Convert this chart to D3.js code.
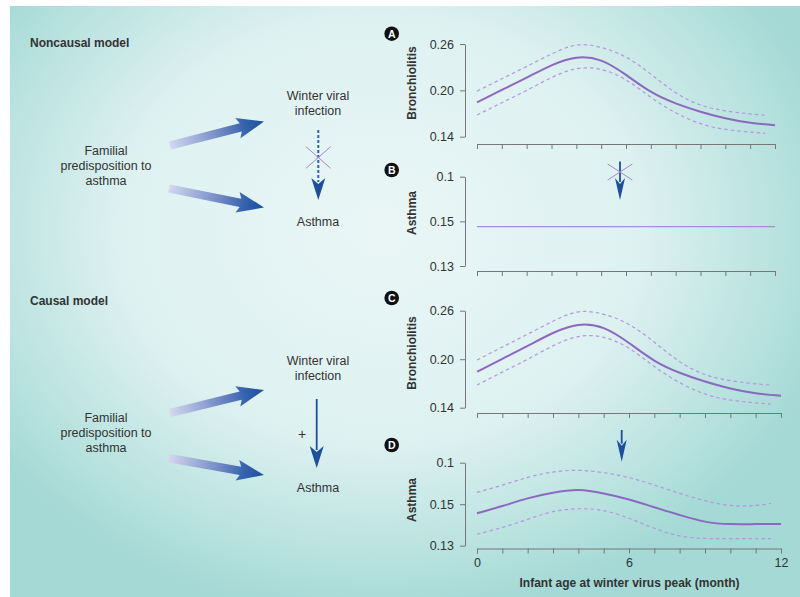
<!DOCTYPE html>
<html>
<head>
<meta charset="utf-8">
<script src="https://cdn.jsdelivr.net/npm/d3@7"></script>
<style>
  body { margin: 0; background: #fff; }
  svg text { font-family: "Liberation Sans", Arial, sans-serif; }
</style>
</head>
<body>
<div id="chart"></div>
<script>
// months along the x axis
const months = [0, 1, 2, 3, 4, 5, 6, 7, 8, 9, 10, 11, 12];
const ciMonths = [0, 1, 2, 3, 4, 5, 6, 7, 8, 9, 10, 11, 11.6];
const xTickLabels = { 0: "0", 6: "6", 12: "12" };

// bronchiolitis risk (panels A and C)
const bronchMean = [0.1845, 0.2005, 0.2164, 0.2324, 0.2423, 0.2384, 0.220, 0.1983, 0.1832, 0.1724, 0.1638, 0.158, 0.1548];
const bronchUpper = [0.199, 0.215, 0.231, 0.247, 0.2585, 0.2555, 0.243, 0.221, 0.197, 0.181, 0.1735, 0.1695, 0.168];
const bronchLower = [0.168, 0.184, 0.200, 0.2165, 0.228, 0.227, 0.2135, 0.191, 0.171, 0.157, 0.1495, 0.146, 0.1444];
const bronchTicks = [0.26, 0.20, 0.14];

// asthma risk, noncausal model (panel B)
const asthmaFlatMonths = [0, 12];
const asthmaFlat = [0.1476, 0.1476];

// asthma risk, causal model (panel D)
const asthmaMean = [0.1456, 0.1491, 0.1528, 0.1555, 0.1568, 0.1552, 0.1523, 0.1485, 0.1448, 0.1416, 0.1404, 0.1404, 0.1404];
const asthmaUpper = [0.1557, 0.1592, 0.1629, 0.1655, 0.1663, 0.1652, 0.1628, 0.1592, 0.1552, 0.1517, 0.1494, 0.1494, 0.1504];
const asthmaLower = [0.1355, 0.1388, 0.1427, 0.1464, 0.1478, 0.1469, 0.1432, 0.1384, 0.1347, 0.1335, 0.1334, 0.1334, 0.1334];
const asthmaTicks = [0.17, 0.15, 0.13];
const asthmaTickLabels = ["0.1", "0.15", "0.13"];

const W = 800, H = 597;
const solidColor = "#8c68c0", dashColor = "#b398dc", blue = "#1d4f9c", textColor = "#333";

const svg = d3.select("#chart").append("svg")
    .attr("width", W).attr("height", H);

const defs = svg.append("defs");
const bg = defs.append("radialGradient")
    .attr("id", "bg")
    .attr("gradientUnits", "userSpaceOnUse")
    .attr("cx", 380).attr("cy", 230).attr("r", 470)
    .attr("gradientTransform", "translate(380,230) scale(1,0.82) translate(-380,-230)");
bg.append("stop").attr("offset", "0").attr("stop-color", "#eaf6f6");
bg.append("stop").attr("offset", "0.55").attr("stop-color", "#def1f1");
bg.append("stop").attr("offset", "0.85").attr("stop-color", "#b8e2df");
bg.append("stop").attr("offset", "1").attr("stop-color", "#a4d9d5");

svg.append("rect")
    .attr("x", 10).attr("y", 6).attr("width", W - 10).attr("height", H - 6)
    .attr("fill", "url(#bg)");

// ---------- left diagram ----------
function gradArrow(id, x1, y1, x2, y2) {
  const len = Math.hypot(x2 - x1, y2 - y1);
  const ang = Math.atan2(y2 - y1, x2 - x1) * 180 / Math.PI;
  // gradient in the arrow's local (rotated) frame
  const g = defs.append("linearGradient").attr("id", id)
      .attr("gradientUnits", "userSpaceOnUse")
      .attr("x1", 0).attr("y1", 0).attr("x2", len).attr("y2", 0);
  g.append("stop").attr("offset", "0").attr("stop-color", "#d4d8ef");
  g.append("stop").attr("offset", "0.55").attr("stop-color", "#6f86c4");
  g.append("stop").attr("offset", "0.8").attr("stop-color", "#3462ad");
  g.append("stop").attr("offset", "1").attr("stop-color", blue);
  const hl = 24, hw = 10.5, sw = 4.2;
  const pts = [[0, -sw], [len - hl, -sw], [len - hl - 3, -hw], [len, 0], [len - hl - 3, hw], [len - hl, sw], [0, sw]];
  svg.append("polygon")
      .attr("points", pts.map(p => p.join(",")).join(" "))
      .attr("transform", `translate(${x1},${y1}) rotate(${ang})`)
      .attr("fill", `url(#${id})`);
}

function downArrow(x, y1, y2, dashed, hw) {
  const hl = 22;
  svg.append("line")
      .attr("x1", x).attr("x2", x).attr("y1", y1).attr("y2", y2 - hl + 4)
      .attr("stroke", dashed ? "#2a66b8" : blue)
      .attr("stroke-width", dashed ? 2 : 1.8)
      .attr("stroke-dasharray", dashed ? "3,2" : null);
  svg.append("path")
      .attr("d", `M${x - hw},${y2 - hl} L${x},${y2 - hl + 6} L${x + hw},${y2 - hl} L${x},${y2} Z`)
      .attr("fill", blue);
}

function cross(cx, cy, w, h) {
  svg.append("path")
      .attr("d", `M${cx - w},${cy - h} L${cx + w},${cy + h} M${cx - w},${cy + h} L${cx + w},${cy - h}`)
      .attr("stroke", "#a688cc").attr("stroke-width", 1);
}

function textLines(lines, x, y0, dy, opts = {}) {
  lines.forEach((t, i) => {
    svg.append("text")
        .attr("x", x).attr("y", y0 + i * dy)
        .attr("text-anchor", opts.anchor || "middle")
        .attr("font-size", opts.size || 12.5)
        .attr("font-weight", opts.bold ? "bold" : null)
        .attr("fill", textColor)
        .text(t);
  });
}

// noncausal
textLines(["Noncausal model"], 30, 47, 0, { anchor: "start", bold: true, size: 12 });
textLines(["Winter viral", "infection"], 318, 100, 15);
textLines(["Familial", "predisposition to", "asthma"], 106, 155, 15);
textLines(["Asthma"], 318, 226, 0);
gradArrow("ga1", 170, 145.5, 264, 121.5);
gradArrow("ga2", 169, 188.5, 264, 207.5);
downArrow(318.3, 130, 200, true, 7);
cross(318.3, 157.5, 12.3, 10.8);

// causal
textLines(["Causal model"], 30, 305, 0, { anchor: "start", bold: true, size: 12 });
textLines(["Winter viral", "infection"], 318, 365, 15);
textLines(["Familial", "predisposition to", "asthma"], 106, 421.5, 15);
textLines(["Asthma"], 318, 492, 0);
gradArrow("ga3", 170, 413, 264, 390);
gradArrow("ga4", 168.5, 458, 264, 475);
downArrow(316.7, 399, 468, false, 7);
svg.append("text").attr("x", 302).attr("y", 438.5).attr("text-anchor", "middle")
    .attr("font-size", 14).attr("fill", textColor).text("+");

// ---------- right panels ----------
const yAxisX = 465;
const xAB = d3.scaleLinear().domain([0, 12]).range([477, 775]);
const xCD = d3.scaleLinear().domain([0, 12]).range([477, 781]);

const panels = [
  { letter: "A", title: "Bronchiolitis", x: xAB, top: 44, bottom: 136.7, axisY: 144, ticks: bronchTicks,
    fmt: d3.format(".2f"), domain: [0.14, 0.26], labelY: 33.7, titleY: 83,
    lines: [
      { xs: months, ys: bronchMean, dashed: false },
      { xs: ciMonths, ys: bronchUpper, dashed: true },
      { xs: ciMonths, ys: bronchLower, dashed: true }] },
  { letter: "B", title: "Asthma", x: xAB, top: 176.7, bottom: 266, axisY: 271, ticks: asthmaTicks,
    fmt: (d, i) => asthmaTickLabels[i], domain: [0.13, 0.17], labelY: 170, titleY: 213,
    lines: [{ xs: asthmaFlatMonths, ys: asthmaFlat, dashed: false, thin: true }] },
  { letter: "C", title: "Bronchiolitis", x: xCD, top: 310.7, bottom: 407.7, axisY: 413, ticks: bronchTicks,
    fmt: d3.format(".2f"), domain: [0.14, 0.26], labelY: 298, titleY: 353,
    lines: [
      { xs: months, ys: bronchMean, dashed: false },
      { xs: ciMonths, ys: bronchUpper, dashed: true },
      { xs: ciMonths, ys: bronchLower, dashed: true }] },
  { letter: "D", title: "Asthma", x: xCD, top: 462.7, bottom: 545.7, axisY: 548.5, ticks: asthmaTicks,
    fmt: (d, i) => asthmaTickLabels[i], domain: [0.13, 0.17], labelY: 445, titleY: 500, xLabels: true,
    lines: [
      { xs: months, ys: asthmaMean, dashed: false },
      { xs: ciMonths, ys: asthmaUpper, dashed: true },
      { xs: ciMonths, ys: asthmaLower, dashed: true }] }
];

panels.forEach(p => {
  const y = d3.scaleLinear().domain(p.domain).range([p.bottom, p.top]);

  const ya = svg.append("g")
      .attr("transform", `translate(${yAxisX},0)`)
      .call(d3.axisLeft(y).tickValues(p.ticks).tickFormat(p.fmt).tickSize(5).tickSizeOuter(0).tickPadding(6));
  const xa = svg.append("g")
      .attr("transform", `translate(0,${p.axisY})`)
      .call(d3.axisBottom(p.x).tickValues(months).tickSize(5).tickSizeOuter(5).tickPadding(5)
          .tickFormat(d => p.xLabels ? (xTickLabels[d] || "") : ""));
  [ya, xa].forEach(a => {
    a.selectAll("path, line").attr("stroke", "#777").attr("stroke-width", 1);
    a.selectAll("text").attr("font-size", 12.5).attr("fill", textColor)
        .attr("font-family", "Liberation Sans, Arial, sans-serif");
  });

  const line = d3.line()
      .x(d => p.x(d[0]))
      .y(d => y(d[1]))
      .curve(d3.curveNatural);

  p.lines.forEach(l => {
    svg.append("path")
        .datum(d3.zip(l.xs, l.ys))
        .attr("fill", "none")
        .attr("stroke", l.dashed ? dashColor : (l.thin ? "#a88cd4" : solidColor))
        .attr("stroke-width", l.dashed ? 1.2 : (l.thin ? 1.2 : 2))
        .attr("stroke-dasharray", l.dashed ? "3.5,3" : null)
        .attr("d", line);
  });

  // panel letter
  svg.append("circle").attr("cx", 391.7).attr("cy", p.labelY).attr("r", 7.3).attr("fill", "#111");
  svg.append("text").attr("x", 391.7).attr("y", p.labelY + 3.8).attr("text-anchor", "middle")
      .attr("font-size", 10.5).attr("font-weight", "bold").attr("fill", "#fff").text(p.letter);

  // y title
  svg.append("text")
      .attr("transform", `translate(416,${p.titleY}) rotate(-90)`)
      .attr("text-anchor", "middle")
      .attr("font-size", 12).attr("font-weight", "bold").attr("fill", textColor)
      .text(p.title);
});

// arrows between panels
downArrow(620, 161.5, 200, false, 5);
cross(620, 172, 12.3, 8);
downArrow(621.7, 430, 461.7, false, 5);

svg.append("text")
    .attr("x", 629.5).attr("y", 586.5)
    .attr("text-anchor", "middle")
    .attr("font-size", 12).attr("font-weight", "bold").attr("fill", textColor)
    .text("Infant age at winter virus peak (month)");
</script>
</body>
</html>
